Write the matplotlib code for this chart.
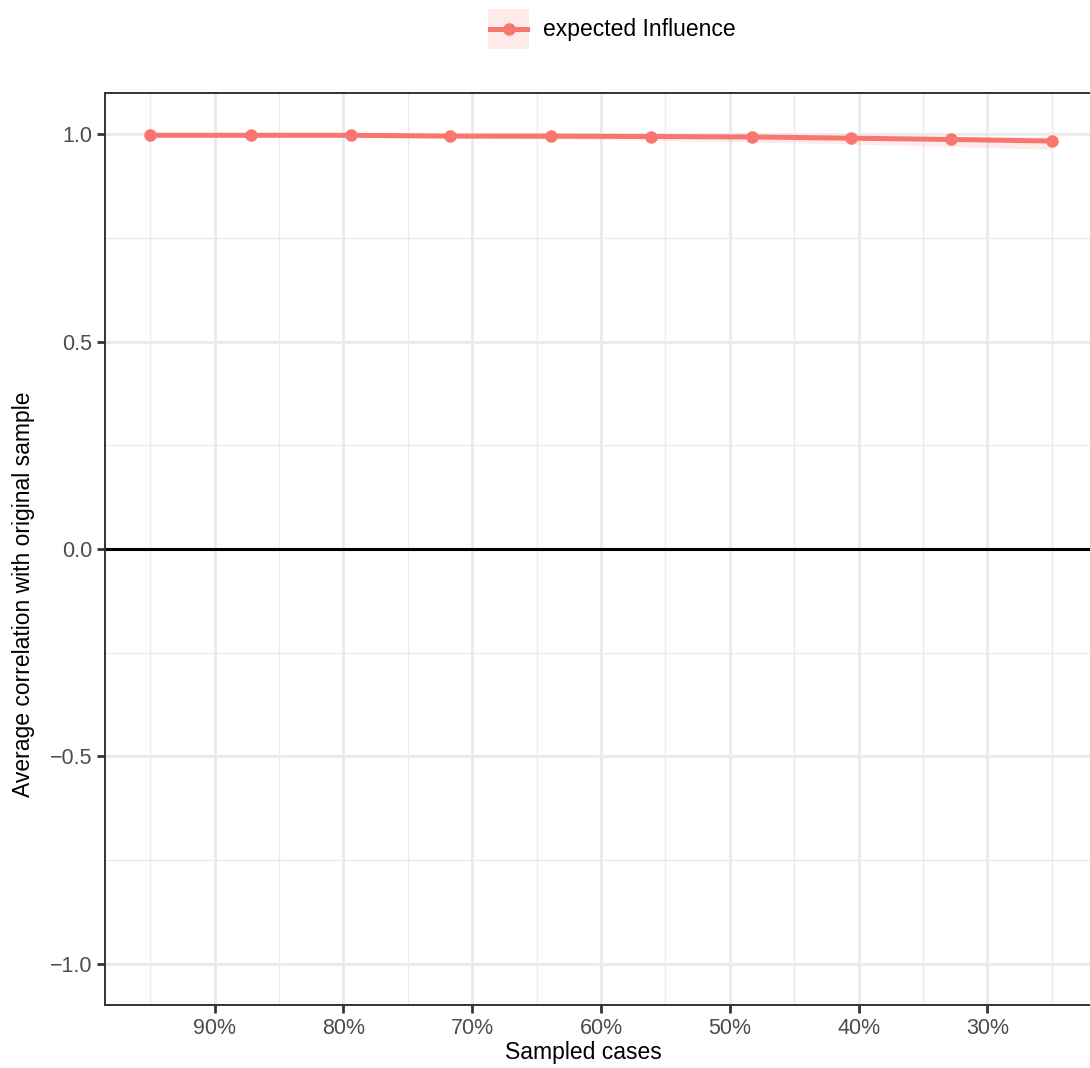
import matplotlib
matplotlib.use("Agg")
import matplotlib.pyplot as plt
import numpy as np
from matplotlib.ticker import FuncFormatter, MultipleLocator
from matplotlib.patches import Patch
from matplotlib.lines import Line2D
from matplotlib.legend_handler import HandlerLine2D

plt.rcParams['font.family'] = ['Liberation Sans', 'DejaVu Sans']

# Proportion of cases sampled
sampled = [0.95, 0.872, 0.794, 0.717, 0.639, 0.561, 0.483, 0.406, 0.328, 0.25]
# Average correlation with original sample
corr_mean = [0.998, 0.998, 0.998, 0.996, 0.996, 0.995, 0.994, 0.991, 0.988, 0.984]
corr_low = [0.996, 0.995, 0.993, 0.991, 0.989, 0.986, 0.982, 0.977, 0.971, 0.964]
corr_high = [0.999, 0.999, 0.999, 0.999, 0.998, 0.998, 0.997, 0.996, 0.995, 0.994]
series_name = "expected Influence"

col = '#F8766D'


# legend line centred on the ribbon key
class CenteredLine(HandlerLine2D):
    def get_ydata(self, legend, xdescent, ydescent, width, height, fontsize):
        return np.full(2, height / 2 - ydescent)

    def get_xdata(self, legend, xdescent, ydescent, width, height, fontsize):
        x0 = -xdescent + 0.05 * width
        return np.array([x0, x0 + 0.9 * width]), np.array([x0, x0 + 0.9 * width])

    def create_artists(self, legend, orig_handle, xdescent, ydescent, width, height,
                       fontsize, trans):
        y = height / 2 - ydescent
        x0, x1 = -xdescent + 0.05 * width, -xdescent + 0.95 * width
        ln = Line2D([x0, x1], [y, y], color=col, linewidth=3.6)
        mk = Line2D([(x0 + x1) / 2], [y], color=col, marker='o', markersize=8, linestyle='')
        ln.set_transform(trans)
        mk.set_transform(trans)
        return [ln, mk]


fig = plt.figure(figsize=(10.9, 10.68), dpi=100)
ax = fig.add_axes([105/1090, 63/1068, 992/1090, 912/1068])

# grid
ax.set_axisbelow(True)
ax.xaxis.set_major_locator(MultipleLocator(0.1))
ax.xaxis.set_minor_locator(MultipleLocator(0.05))
ax.yaxis.set_major_locator(MultipleLocator(0.5))
ax.yaxis.set_minor_locator(MultipleLocator(0.25))
ax.grid(which='major', color='#EBEBEB', linewidth=2.2)
ax.grid(which='minor', color='#EBEBEB', linewidth=1.0)

ax.axhline(0, color='black', linewidth=2.2, zorder=2)

ax.fill_between(sampled, corr_low, corr_high, color=col, alpha=0.15, linewidth=0, zorder=3)
ax.plot(sampled, corr_mean, color=col, linewidth=3.6, marker='o', markersize=8, zorder=4)

ax.set_xlim(0.985, 0.215)
ax.set_ylim(-1.1, 1.1)
ax.xaxis.set_major_formatter(FuncFormatter(lambda v, p: '%d%%' % round(v * 100)))
ax.yaxis.set_major_formatter(FuncFormatter(lambda v, p: ('%.1f' % v).replace('-', '\u2212')))

for s in ax.spines.values():
    s.set_color('#333333')
    s.set_linewidth(1.4)
ax.tick_params(which='major', length=5.8, width=2, color='#333333',
               labelsize=15.5, labelcolor='#4D4D4D', pad=3.5)
ax.tick_params(which='minor', length=0)

fig.text(583/1090, 1 - 1052/1068, 'Sampled cases', ha='center', va='center', fontsize=16.5)
fig.text(24/1090, 1 - 594/1068, 'Average correlation with original sample',
         ha='center', va='center', rotation=90, fontsize=16.5)

key_line = Line2D([], [], color=col)
handle = (Patch(facecolor=col, alpha=0.15, linewidth=0), key_line)
fig.legend([handle], [series_name], loc='center', bbox_to_anchor=(612/1090, 1 - 29/1068),
           frameon=False, fontsize=16.5, handlelength=1.8, handleheight=2.3,
           handletextpad=0.6, borderpad=0, handler_map={key_line: CenteredLine()})

fig.savefig('out.png', dpi=100)
